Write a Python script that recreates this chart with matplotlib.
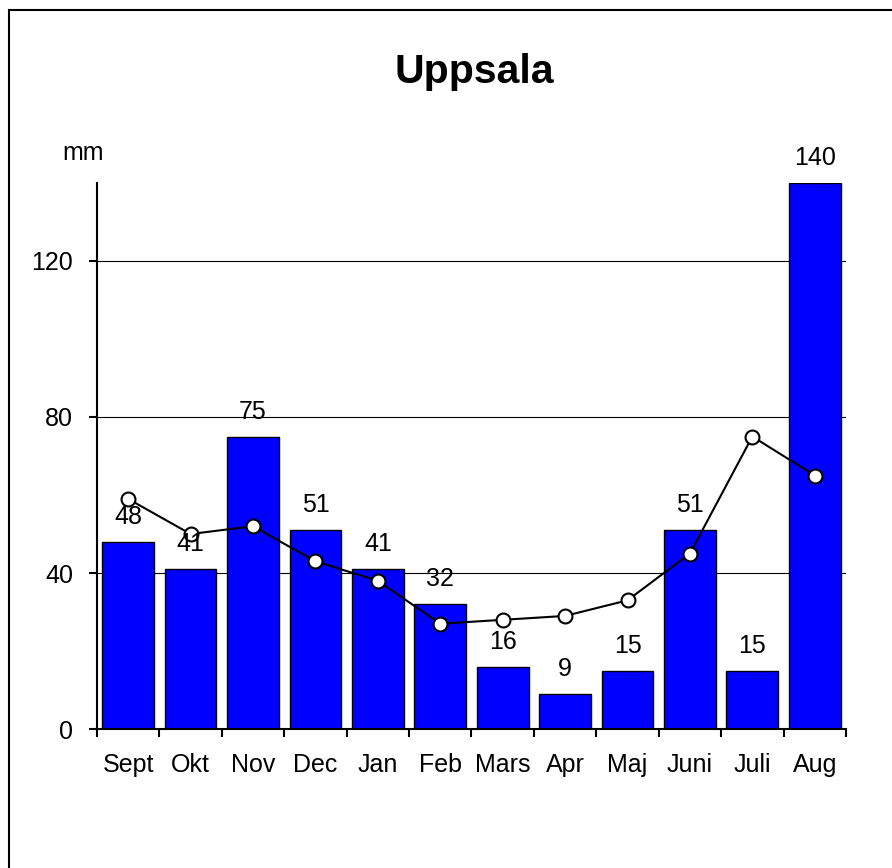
import matplotlib.pyplot as plt
from matplotlib.patches import Rectangle
import numpy as np

plt.rcParams['font.family'] = ['Liberation Sans', 'DejaVu Sans']

# Monthly data, Uppsala
months = ['Sept', 'Okt', 'Nov', 'Dec', 'Jan', 'Feb', 'Mars', 'Apr', 'Maj', 'Juni', 'Juli', 'Aug']
precip = [48, 41, 75, 51, 41, 32, 16, 9, 15, 51, 15, 140]
normal = [59, 50, 52, 43, 38, 27, 28, 29, 33, 45, 75, 65]

x = np.arange(len(months))
fs = 18

fig = plt.figure(figsize=(8.92, 8.68), dpi=100)
ax = fig.add_axes([0.1087, 0.1601, 0.8397, 0.6291])

# Outer frame (runs off the right and bottom edge)
fig.patches.append(Rectangle((8.5 / 892, -0.05), 1.1, 1 - 9.5 / 868 + 0.05,
                             transform=fig.transFigure, fill=False,
                             edgecolor='black', linewidth=1.5))

ax.bar(x, precip, width=0.83, color='#0000FF', edgecolor='black', linewidth=1, zorder=2)
ax.plot(x, normal, color='black', linewidth=1.5, marker='o', markersize=10,
        markerfacecolor='white', markeredgecolor='black', markeredgewidth=1.5, zorder=3)

for xi, v in zip(x, precip):
    ax.annotate(str(v), (xi, v), xytext=(0, 18), textcoords='offset points',
                ha='center', va='center', fontsize=fs)

ax.set_xlim(-0.5, len(months) - 0.5)
ax.set_ylim(0, 140)
ax.set_yticks([0, 40, 80, 120])
ax.yaxis.grid(True, color='black', linewidth=0.8, zorder=0)
ax.set_axisbelow(True)

ax.set_xticks(x)
ax.set_xticklabels(months, fontsize=fs)
ax.tick_params(axis='x', which='major', length=0, pad=17)
ax.set_xticks(np.arange(-0.5, len(months)), minor=True)
ax.tick_params(axis='x', which='minor', length=6, width=1.5, direction='out')
ax.tick_params(axis='y', labelsize=fs, length=6, width=1.5, pad=11)

for s in ['top', 'right']:
    ax.spines[s].set_visible(False)
for s in ['left', 'bottom']:
    ax.spines[s].set_linewidth(1.5)

fig.text(474 / 892, 1 - 83 / 868, 'Uppsala', fontsize=29.5, fontweight='bold',
         ha='center', va='baseline')
fig.text(83 / 892, 1 - 153 / 868, 'mm', fontsize=fs, ha='center', va='center')

fig.savefig('out.png', dpi=100)
